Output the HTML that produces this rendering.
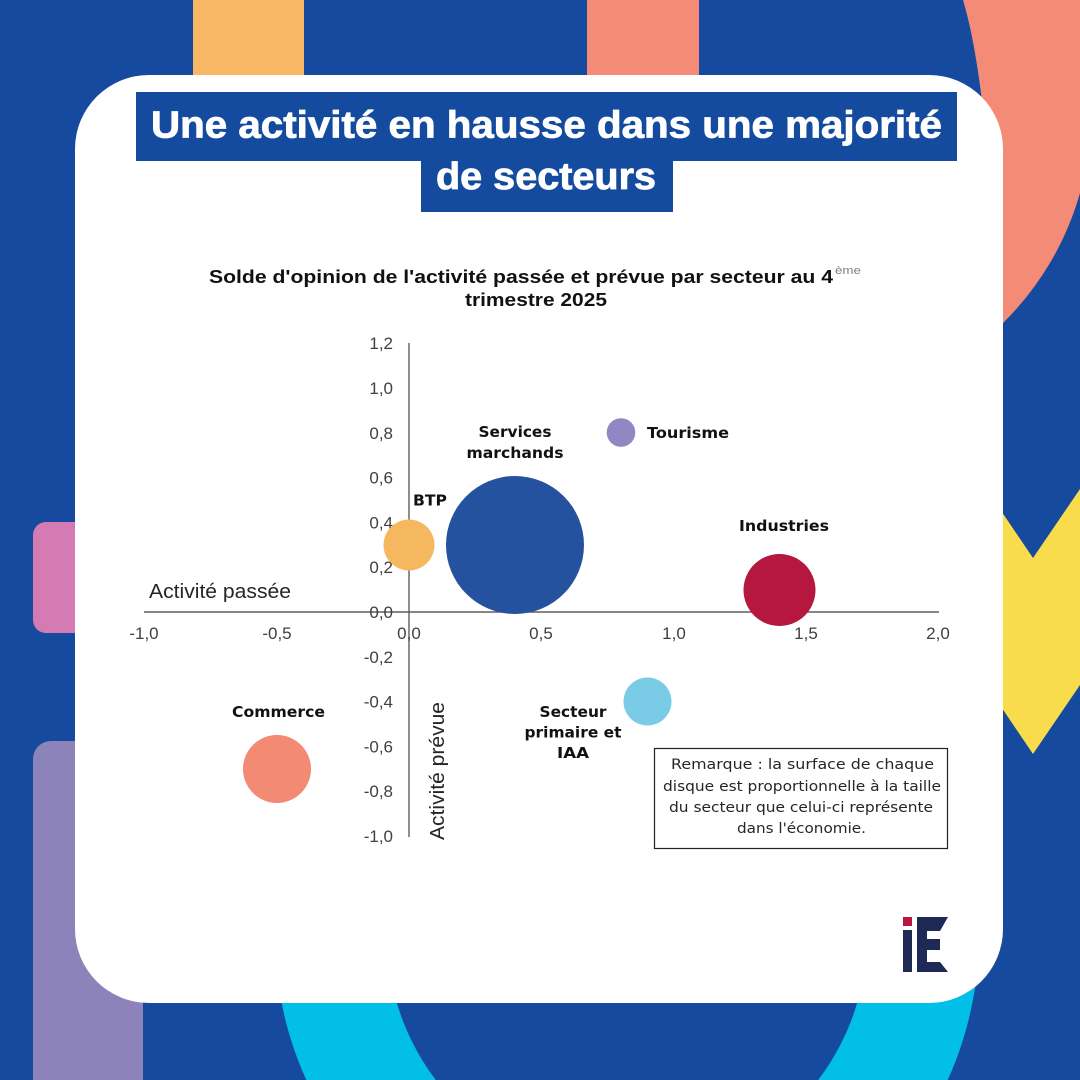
<!DOCTYPE html>
<html>
<head>
<meta charset="utf-8">
<style>
html,body{margin:0;padding:0;background:#154a9e;width:1080px;height:1080px;overflow:hidden;}
svg{display:block;overflow:hidden;}
</style>
</head>
<body>
<svg width="1080" height="1080" viewBox="0 0 1080 1080" xmlns="http://www.w3.org/2000/svg">
  <!-- background -->
  <rect x="0" y="0" width="1080" height="1080" fill="#154a9e"/>
  <!-- top decorations -->
  <rect x="193" y="0" width="111" height="90" fill="#f9b865"/>
  <rect x="587" y="0" width="112" height="90" fill="#f48b77"/>
  <path d="M963 0 L1080 0 L1080 193 A296 296 0 0 1 1003 323 L998 323 L998 320 C990 120 975 40 963 0 Z" fill="#f48b77"/>
  <!-- yellow chevron -->
  <polygon points="960,450 1033,558 1080,489 1080,685 1033,754 960,646" fill="#f8dc4b"/>
  <!-- left decorations -->
  <rect x="33" y="522" width="80" height="111" rx="13" ry="13" fill="#d47bb4"/>
  <path d="M33 759 A18 18 0 0 1 51 741 L143 741 L143 1080 L33 1080 Z" fill="#8b83b9"/>
  <!-- cyan ring (clipped at bottom edge) -->
  <path d="M306.3 1080 A352 352 0 1 1 947.7 1080 L818.2 1080 A240 240 0 1 0 435.8 1080 Z" fill="#02bfe8"/>
  <!-- card -->
  <rect x="75" y="75" width="928" height="928" rx="74" ry="74" fill="#ffffff"/>

  <!-- title boxes -->
  <rect x="136" y="92" width="821" height="69" fill="#154b9e"/>
  <rect x="421" y="160" width="252" height="52" fill="#154b9e"/>
  <text x="151" y="137.5" font-family="Liberation Sans, sans-serif" font-weight="bold" font-size="38" fill="#ffffff" stroke="#ffffff" stroke-width="0.8" textLength="791" lengthAdjust="spacingAndGlyphs">Une activité en hausse dans une majorité</text>
  <text x="436" y="189" font-family="Liberation Sans, sans-serif" font-weight="bold" font-size="38" fill="#ffffff" stroke="#ffffff" stroke-width="0.8" textLength="220" lengthAdjust="spacingAndGlyphs">de secteurs</text>

  <!-- chart title -->
  <text x="209" y="283" font-family="Liberation Sans, sans-serif" font-weight="bold" font-size="18" fill="#111" textLength="624" lengthAdjust="spacingAndGlyphs">Solde d'opinion de l'activité passée et prévue par secteur au 4</text>
  <text x="835" y="274" font-family="Liberation Sans, sans-serif" font-size="11" fill="#808080" textLength="26" lengthAdjust="spacingAndGlyphs">ème</text>
  <text x="465" y="306" font-family="Liberation Sans, sans-serif" font-weight="bold" font-size="18" fill="#111" textLength="142" lengthAdjust="spacingAndGlyphs">trimestre 2025</text>

  <!-- axes -->
  <line x1="409" y1="343" x2="409" y2="837" stroke="#5f5f5f" stroke-width="1.4"/>
  <line x1="144" y1="612" x2="939" y2="612" stroke="#5f5f5f" stroke-width="1.4"/>

  <!-- y tick labels -->
  <g font-family="Liberation Sans, sans-serif" font-size="17" fill="#404040" text-anchor="end">
    <text x="393" y="349">1,2</text>
    <text x="393" y="394">1,0</text>
    <text x="393" y="439">0,8</text>
    <text x="393" y="483.5">0,6</text>
    <text x="393" y="528.5">0,4</text>
    <text x="393" y="573">0,2</text>
    <text x="393" y="618">0,0</text>
    <text x="393" y="663">-0,2</text>
    <text x="393" y="707.5">-0,4</text>
    <text x="393" y="752.5">-0,6</text>
    <text x="393" y="797">-0,8</text>
    <text x="393" y="842">-1,0</text>
  </g>
  <!-- x tick labels -->
  <g font-family="Liberation Sans, sans-serif" font-size="17" fill="#404040" text-anchor="middle">
    <text x="144" y="639">-1,0</text>
    <text x="277" y="639">-0,5</text>
    <text x="409" y="639">0,0</text>
    <text x="541" y="639">0,5</text>
    <text x="674" y="639">1,0</text>
    <text x="806" y="639">1,5</text>
    <text x="938" y="639">2,0</text>
  </g>

  <!-- axis names -->
  <text x="149" y="598" font-family="Liberation Sans, sans-serif" font-size="20" fill="#262626" textLength="142" lengthAdjust="spacingAndGlyphs">Activité passée</text>
  <text transform="translate(444,840) rotate(-90)" x="0" y="0" font-family="Liberation Sans, sans-serif" font-size="20" fill="#262626" textLength="138" lengthAdjust="spacingAndGlyphs">Activité prévue</text>

  <!-- bubbles -->
  <circle cx="409" cy="545" r="25.5" fill="#f6b85f"/>
  <circle cx="515" cy="545" r="69" fill="#24529e"/>
  <circle cx="621" cy="432.5" r="14.3" fill="#9087c3"/>
  <circle cx="779.5" cy="590" r="36" fill="#b5173e"/>
  <circle cx="647.5" cy="701.5" r="24" fill="#7acbe6"/>
  <circle cx="277" cy="769" r="34" fill="#f28a74"/>

  <!-- bubble labels -->
  <g font-family="DejaVu Sans, Liberation Sans, sans-serif" font-weight="bold" font-size="15" fill="#111">
    <text x="478.5" y="437" textLength="73" lengthAdjust="spacingAndGlyphs">Services</text>
    <text x="466.5" y="458" textLength="97" lengthAdjust="spacingAndGlyphs">marchands</text>
    <text x="413" y="505.5" textLength="34" lengthAdjust="spacingAndGlyphs">BTP</text>
    <text x="647" y="438" textLength="82" lengthAdjust="spacingAndGlyphs">Tourisme</text>
    <text x="739" y="531" textLength="90" lengthAdjust="spacingAndGlyphs">Industries</text>
    <text x="232" y="717" textLength="93" lengthAdjust="spacingAndGlyphs">Commerce</text>
    <text x="539.5" y="717" textLength="67" lengthAdjust="spacingAndGlyphs">Secteur</text>
    <text x="524.5" y="737.5" textLength="97" lengthAdjust="spacingAndGlyphs">primaire et</text>
    <text x="557" y="758" textLength="32" lengthAdjust="spacingAndGlyphs">IAA</text>
  </g>

  <!-- remark box -->
  <rect x="654.5" y="748.5" width="293" height="100" fill="#ffffff" stroke="#222" stroke-width="1.2"/>
  <g font-family="DejaVu Sans, Liberation Sans, sans-serif" font-size="14" fill="#262626">
    <text x="671" y="769" textLength="263" lengthAdjust="spacingAndGlyphs">Remarque  : la surface de chaque</text>
    <text x="663" y="791" textLength="278" lengthAdjust="spacingAndGlyphs">disque est proportionnelle à la taille</text>
    <text x="669" y="812" textLength="264" lengthAdjust="spacingAndGlyphs">du secteur que celui-ci représente</text>
    <text x="737" y="833" textLength="129" lengthAdjust="spacingAndGlyphs">dans l'économie.</text>
  </g>

  <!-- logo -->
  <rect x="903" y="917" width="9" height="9" fill="#b5173e"/>
  <rect x="903" y="930" width="9" height="42" fill="#1e2a55"/>
  <polygon points="917,917 948,917 940,931 927,931 927,939 940,939 940,950 927,950 927,962 940,962 948,972 917,972" fill="#1e2a55"/>
</svg>
</body>
</html>
